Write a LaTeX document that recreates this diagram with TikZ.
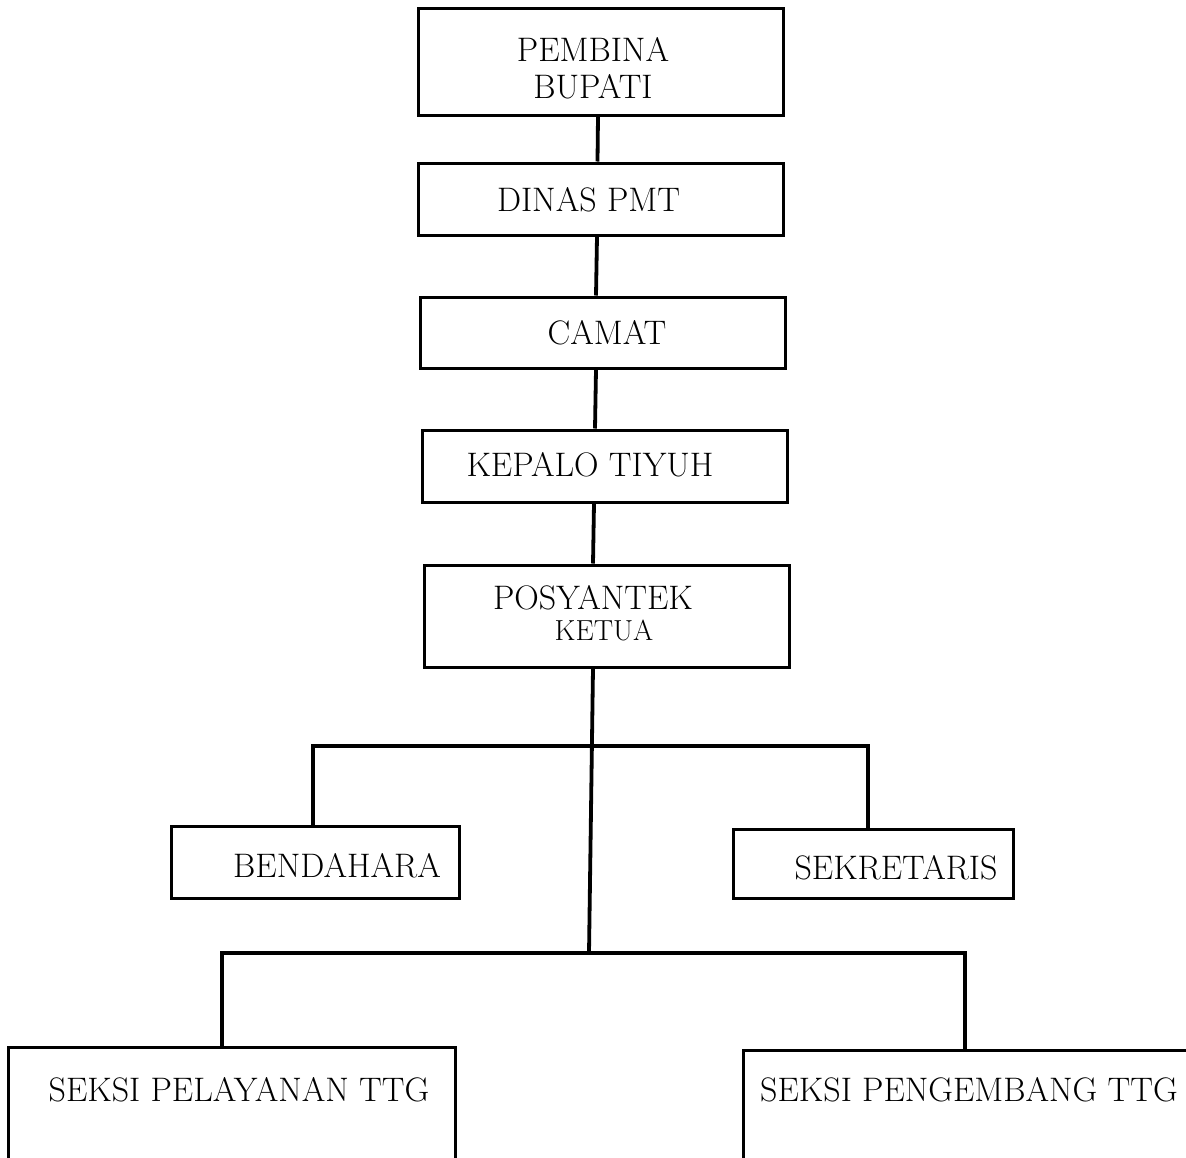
\documentclass[tikz,border=0pt]{standalone}
\usetikzlibrary{positioning}
\begin{document}
\begin{tikzpicture}[x=1pt,y=-1pt,
  box/.style={draw, line width=3pt, inner sep=0pt, minimum width=365pt, minimum height=72pt},
  txt/.style={font=\fontsize{34}{37}\selectfont, align=center, inner sep=0pt},
  link/.style={line width=3.8pt}]
\useasboundingbox (0,0) rectangle (1186,1157);
\clip (0,0) rectangle (1186,1157);
\node[box, minimum height=107pt, label={[txt,xshift=-7.5pt,yshift=-6.5pt]center:PEMBINA\\BUPATI}] (pembina) at (600.5,61.5) {};
\node[box, label={[txt,xshift=-12pt,yshift=-1pt]center:DINAS PMT}] (dinas) at (600.5,199) {};
\node[box, minimum height=71pt, label={[txt,xshift=4.5pt]center:CAMAT}] (camat) at (602.5,332.5) {};
\node[box, label={[txt,xshift=-14.5pt,yshift=1pt]center:KEPALO TIYUH}] (kepalo) at (604.5,466) {};
\node[box, minimum height=102pt, label={[txt,xshift=-13.5pt,yshift=18pt]center:POSYANTEK},
  label={[txt,font=\fontsize{29}{32}\selectfont,xshift=-2.5pt,yshift=-14pt]center:KETUA}] (posy) at (606.5,616) {};
\node[box, minimum width=288pt, label={[txt,xshift=22pt,yshift=-4pt]center:BENDAHARA}] (bend) at (315,862) {};
\node[box, minimum width=280pt, minimum height=69pt, label={[txt,xshift=23pt,yshift=-4.5pt]center:SEKRETARIS}] (sekr) at (873,863.5) {};
\node[box, minimum width=447pt, minimum height=200pt, label={[txt,xshift=7.5pt,yshift=57pt]center:SEKSI PELAYANAN TTG}] (pelay) at (231.5,1147) {};
\node[box, minimum width=497pt, minimum height=200pt, label={[txt,xshift=-22.5pt,yshift=60pt]center:SEKSI PENGEMBANG TTG}] (kemb) at (991.5,1150) {};
\coordinate (bus1) at (591,746);
\coordinate (bus2) at (589,953);
\draw[link] ([xshift=-2.5pt]pembina.south) -- ([xshift=-3pt]dinas.north);
\draw[link] ([xshift=-3.5pt]dinas.south) -- ([xshift=-6.5pt]camat.north);
\draw[link] ([xshift=-6.5pt]camat.south) -- ([xshift=-9.5pt]kepalo.north);
\draw[link] ([xshift=-10.5pt]kepalo.south) -- ([xshift=-13.5pt]posy.north);
\draw[link] ([xshift=-13.5pt]posy.south) -- (bus2);
\draw[link] ([xshift=-2pt]bend.north) |- (bus1) -| ([xshift=-5pt]sekr.north);
\draw[link] ([xshift=-9.5pt]pelay.north) |- (bus2) -| ([xshift=-26.5pt]kemb.north);
\end{tikzpicture}
\end{document}
